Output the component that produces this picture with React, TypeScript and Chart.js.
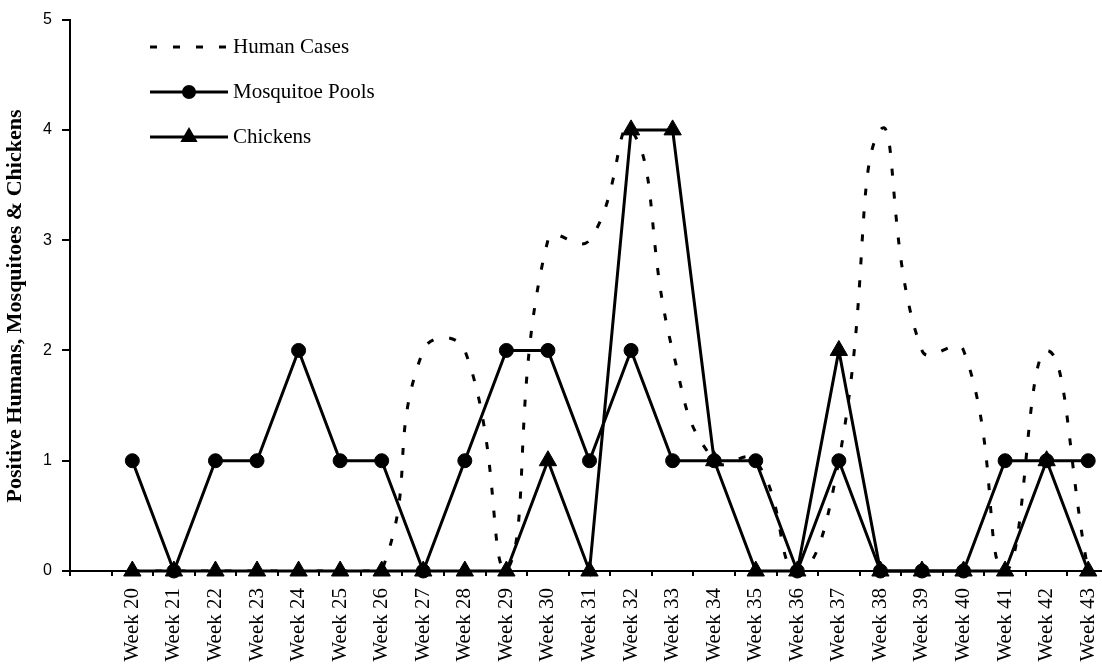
import React, { useEffect, useRef } from "react";
import { Chart, registerables } from "chart.js";

Chart.register(...registerables);

// ---- Data ----
const weekLabels = [
  "Week 20", "Week 21", "Week 22", "Week 23", "Week 24", "Week 25",
  "Week 26", "Week 27", "Week 28", "Week 29", "Week 30", "Week 31",
  "Week 32", "Week 33", "Week 34", "Week 35", "Week 36", "Week 37",
  "Week 38", "Week 39", "Week 40", "Week 41", "Week 42", "Week 43",
];
const humanCases = [0, 0, 0, 0, 0, 0, 0, 2, 2, 0, 3, 3, 4, 2, 1, 1, 0, 1, 4, 2, 2, 0, 2, 0];
const mosquitoePools = [1, 0, 1, 1, 2, 1, 1, 0, 1, 2, 2, 1, 2, 1, 1, 1, 0, 1, 0, 0, 0, 1, 1, 1];
const chickens = [0, 0, 0, 0, 0, 0, 0, 0, 0, 0, 1, 0, 4, 4, 1, 0, 0, 2, 0, 0, 0, 0, 1, 0];
const yTicks = [0, 1, 2, 3, 4, 5];
const seriesNames = ["Human Cases", "Mosquitoe Pools", "Chickens"];
const yTitle = "Positive Humans, Mosquitoes & Chickens";

// The reference has an empty leading category slot before Week 20
const labels = ["", ...weekLabels];
const pad = (arr: number[]) => [null, ...arr];

const SERIF = "'Liberation Serif', 'Times New Roman', serif";
const SANS = "'Liberation Sans', Arial, sans-serif";

const overlayPlugin = {
  id: "overlay",
  afterDraw(chart: any) {
    const ctx: CanvasRenderingContext2D = chart.ctx;
    // Y-axis title
    ctx.save();
    ctx.translate(15, 306);
    ctx.rotate(-Math.PI / 2);
    ctx.font = `bold 22px ${SERIF}`;
    ctx.fillStyle = "#000";
    ctx.textAlign = "center";
    ctx.textBaseline = "middle";
    ctx.fillText(yTitle, 0, 0);
    ctx.restore();

    // Legend inside plot area
    const x0 = 150, x1 = 228, xm = 189, tx = 233;
    chart.data.datasets.forEach((ds: any, i: number) => {
      const y = 47 + i * 45;
      ctx.save();
      ctx.strokeStyle = ds.borderColor;
      ctx.lineWidth = ds.borderWidth;
      ctx.setLineDash(ds.borderDash || []);
      ctx.beginPath();
      ctx.moveTo(x0, y);
      ctx.lineTo(x1, y);
      ctx.stroke();
      ctx.setLineDash([]);
      ctx.fillStyle = ds.pointBackgroundColor || "#000";
      if (ds.pointRadius > 0) {
        const r = ds.pointRadius;
        ctx.beginPath();
        if (ds.pointStyle === "triangle") {
          ctx.moveTo(xm, y - r);
          ctx.lineTo(xm + r * Math.sin(Math.PI * 2 / 3), y - r * Math.cos(Math.PI * 2 / 3));
          ctx.lineTo(xm + r * Math.sin(Math.PI * 4 / 3), y - r * Math.cos(Math.PI * 4 / 3));
          ctx.closePath();
        } else {
          ctx.arc(xm, y, r, 0, Math.PI * 2);
        }
        ctx.fill();
      }
      ctx.fillStyle = "#000";
      ctx.font = `21px ${SERIF}`;
      ctx.textAlign = "left";
      ctx.textBaseline = "middle";
      ctx.fillText(ds.label, tx, y);
      ctx.restore();
    });
  },
};

export default function App() {
  const ref = useRef<HTMLCanvasElement>(null);

  useEffect(() => {
    const chart = new Chart(ref.current as HTMLCanvasElement, {
      type: "line",
      data: {
        labels,
        datasets: [
          {
            label: seriesNames[0],
            data: pad(humanCases),
            borderColor: "#000",
            backgroundColor: "#000",
            borderWidth: 3,
            borderDash: [7, 16],
            pointRadius: 0,
            pointHoverRadius: 0,
            tension: 0.5,
            fill: false,
            order: 3,
          },
          {
            label: seriesNames[1],
            data: pad(mosquitoePools),
            borderColor: "#000",
            backgroundColor: "#000",
            pointBackgroundColor: "#000",
            pointBorderColor: "#000",
            borderWidth: 3,
            pointStyle: "circle",
            pointRadius: 7,
            pointBorderWidth: 1,
            tension: 0,
            fill: false,
            clip: false,
            order: 2,
          },
          {
            label: seriesNames[2],
            data: pad(chickens),
            borderColor: "#000",
            backgroundColor: "#000",
            pointBackgroundColor: "#000",
            pointBorderColor: "#000",
            borderWidth: 3,
            pointStyle: "triangle",
            pointRadius: 10,
            pointBorderWidth: 1,
            tension: 0,
            fill: false,
            clip: false,
            order: 1,
          },
        ] as any,
      },
      options: {
        animation: false,
        responsive: false,
        devicePixelRatio: 1,
        layout: { autoPadding: false, padding: { top: 16, right: 3, left: 0, bottom: 0 } },
        plugins: {
          legend: { display: false },
          tooltip: { enabled: false },
          title: { display: false },
        },
        scales: {
          x: {
            type: "category",
            offset: true,
            grid: {
              offset: true,
              drawOnChartArea: false,
              drawTicks: true,
              tickLength: 5,
              color: "#000",
              lineWidth: 2,
            },
            border: { display: true, color: "#000", width: 2 },
            ticks: {
              autoSkip: false,
              minRotation: 90,
              maxRotation: 90,
              padding: 12,
              color: "#000",
              font: { family: SERIF, size: 21 },
            },
            afterFit: (scale: any) => {
              scale.height = 95;
              scale.paddingLeft = 0;
              scale.paddingRight = 0;
            },
          },
          y: {
            type: "linear",
            min: 0,
            max: 5,
            afterBuildTicks: (scale: any) => {
              scale.ticks = yTicks.map((v) => ({ value: v }));
            },
            grid: {
              drawOnChartArea: false,
              drawTicks: true,
              tickLength: 8,
              color: "#000",
              lineWidth: 2,
            },
            border: { display: true, color: "#000", width: 2 },
            ticks: {
              padding: 10,
              color: "#000",
              font: { family: SANS, size: 16 },
            },
            afterFit: (scale: any) => {
              scale.width = 70;
            },
          },
        },
      } as any,
      plugins: [overlayPlugin],
    });
    return () => chart.destroy();
  }, []);

  return (
    <div
      style={{
        position: "fixed",
        left: 0,
        top: 0,
        width: 1102,
        height: 666,
        overflow: "hidden",
        background: "#fff",
      }}
    >
      <canvas
        ref={ref}
        width={1112}
        height={666}
        style={{ display: "block", width: 1112, height: 666 }}
      />
    </div>
  );
}
